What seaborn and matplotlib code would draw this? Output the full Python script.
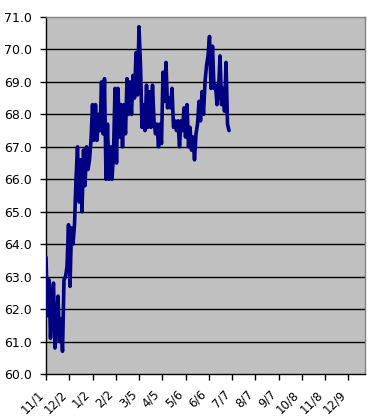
import matplotlib
matplotlib.use("Agg")
import matplotlib.pyplot as plt
import matplotlib.transforms as mtransforms
import numpy as np
import pandas as pd
import seaborn as sns

# ---- data ----
tick_labels = ["11/1", "12/2", "1/2", "2/2", "3/5", "4/5", "5/6",
               "6/6", "7/7", "8/7", "9/7", "10/8", "11/8", "12/9"]
tick_days = [0, 31, 62, 93, 124, 155, 186, 217, 248, 279, 310, 341, 372, 403]
day_step = 2  # sampling interval (days) of the series below
values = [
    63.6, 61.8, 62.9, 61.1, 62.3, 62.8, 60.8, 61.6, 62.4, 61.0,
    61.7, 60.7, 62.9, 63.0, 63.3, 64.6, 62.7, 64.5, 64.0, 64.6,
    66.0, 67.0, 65.3, 66.6, 65.0, 66.9, 65.8, 67.0, 66.3, 66.6,
    67.2, 68.3, 67.2, 68.3, 67.2, 68.0, 67.5, 69.0, 67.4, 69.1,
    66.0, 67.7, 66.0, 67.0, 66.0, 66.8, 68.8, 66.5, 68.8, 67.3,
    68.3, 67.0, 68.3, 67.4, 69.1, 68.0, 69.0, 68.0, 69.2, 68.5,
    69.9, 68.6, 70.7, 69.5, 67.6, 68.3, 67.5, 68.9, 67.6, 68.7,
    67.6, 68.9, 67.8, 67.4, 67.7, 67.0, 67.7, 67.1, 69.3, 68.4,
    69.6, 68.2, 68.5, 68.2, 68.8, 67.6, 67.8, 67.5, 67.8, 67.0,
    67.8, 67.5, 68.2, 67.3, 68.3, 67.0, 67.6, 66.9, 67.3, 66.6,
    67.4, 67.7, 68.4, 67.8, 68.7, 68.0, 69.0, 69.5, 69.8, 70.4,
    68.8, 70.1, 68.8, 68.9, 68.3, 68.7, 69.8, 68.3, 68.8, 68.1,
    69.6, 67.7, 67.5,
]
y_ticks = [60, 61, 62, 63, 64, 65, 66, 67, 68, 69, 70, 71]

df = pd.DataFrame({"day": np.arange(len(values)) * day_step, "value": values})

# ---- figure ----
sns.set_theme(style="white")
plt.rcParams["font.family"] = ["DejaVu Sans"]

W, H = 373, 417
fig = plt.figure(figsize=(W / 100, H / 100), dpi=100)
fig.patch.set_facecolor("white")
ax = fig.add_axes([46 / W, 1 - 374 / H, (365 - 46) / W, (374 - 17) / H])
ax.set_facecolor("#C0C0C0")

for yv in y_ticks[1:-1]:
    ax.axhline(yv, color="black", lw=1.0, zorder=1)

sns.lineplot(data=df, x="day", y="value", ax=ax, color="#000080",
             linewidth=2.6, zorder=3, estimator=None)

ax.set_xlim(0, 425.3)
ax.set_ylim(60, 71)
ax.set_yticks(y_ticks)
ax.set_yticklabels([f"{v:.1f}" for v in y_ticks], fontsize=9)
ax.set_xticks(tick_days)
ax.set_xticklabels(tick_labels, fontsize=8.5, rotation=45, ha="right")
offset = mtransforms.ScaledTranslation(-7 / 100, 0, fig.dpi_scale_trans)
for lbl in ax.get_xticklabels():
    lbl.set_transform(lbl.get_transform() + offset)

ax.tick_params(axis="both", direction="out", length=4, width=1, color="black",
               labelcolor="black")
ax.tick_params(axis="x", pad=6)
ax.tick_params(axis="y", pad=6)
ax.xaxis.set_ticks_position("bottom")
ax.yaxis.set_ticks_position("left")
ax.set_xlabel("")
ax.set_ylabel("")

for side in ["left", "bottom"]:
    ax.spines[side].set_color("black")
    ax.spines[side].set_linewidth(1.0)
for side in ["top", "right"]:
    ax.spines[side].set_color("#808080")
    ax.spines[side].set_linewidth(1.0)

fig.savefig("out.png", dpi=100)
